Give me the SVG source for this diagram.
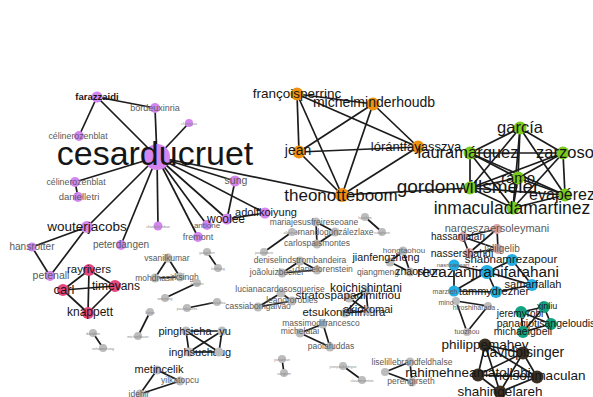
<svg xmlns="http://www.w3.org/2000/svg" width="593" height="397" viewBox="0 0 593 397">
<style>
.e line{stroke:#1c1c1c;stroke-width:1.7}
text{font-family:"Liberation Sans",Arial,sans-serif;text-anchor:middle}
.pu{fill:#d585ef}.or{fill:#f0900f}.gr{fill:#7bcb1e}.rd{fill:#e5467b}.pk{fill:#d9a4a4}.bl{fill:#22aee3}.tl{fill:#14a382}.dk{fill:#3b3024}.gy{fill:#bcbcbc}
.L{fill:#161616}.S{fill:#5a5a5a}.x{fill:#8a8a8a;font-size:3.6px}.b{font-weight:bold}
</style>
<rect width="593" height="397" fill="#fff"/>
<g class="e" id="edges">
<line x1="157" y1="157" x2="97" y2="97"/><line x1="157" y1="157" x2="155" y2="108"/><line x1="157" y1="157" x2="189" y2="123"/>
<line x1="157" y1="157" x2="75" y2="182"/><line x1="157" y1="157" x2="87" y2="227"/><line x1="157" y1="157" x2="121" y2="245"/>
<line x1="157" y1="157" x2="158" y2="226"/><line x1="157" y1="157" x2="207" y2="225"/><line x1="157" y1="157" x2="198" y2="237"/>
<line x1="157" y1="157" x2="227" y2="219"/><line x1="157" y1="157" x2="265" y2="213"/><line x1="157" y1="157" x2="235" y2="181"/>
<line x1="157" y1="157" x2="342" y2="195"/>
<line x1="97" y1="97" x2="155" y2="108"/><line x1="97" y1="97" x2="79" y2="136"/><line x1="75" y1="182" x2="78" y2="197"/>
<line x1="87" y1="227" x2="32" y2="247"/><line x1="87" y1="227" x2="50" y2="276"/><line x1="32" y1="247" x2="50" y2="276"/>
<line x1="235" y1="181" x2="227" y2="219"/><line x1="265" y1="213" x2="227" y2="219"/>
<line x1="297" y1="94" x2="373" y2="104"/><line x1="297" y1="94" x2="299" y2="152"/><line x1="297" y1="94" x2="418" y2="147"/><line x1="297" y1="94" x2="342" y2="195"/>
<line x1="373" y1="104" x2="299" y2="152"/><line x1="373" y1="104" x2="418" y2="147"/><line x1="373" y1="104" x2="342" y2="195"/>
<line x1="299" y1="152" x2="418" y2="147"/><line x1="299" y1="152" x2="342" y2="195"/><line x1="418" y1="147" x2="342" y2="195"/>
<line x1="342" y1="195" x2="470" y2="188"/>
<line x1="520" y1="128" x2="470" y2="153"/><line x1="520" y1="128" x2="563" y2="153"/><line x1="520" y1="128" x2="518" y2="178"/><line x1="520" y1="128" x2="470" y2="188"/><line x1="520" y1="128" x2="565" y2="195"/><line x1="520" y1="128" x2="513" y2="208"/>
<line x1="470" y1="153" x2="563" y2="153"/><line x1="470" y1="153" x2="518" y2="178"/><line x1="470" y1="153" x2="470" y2="188"/><line x1="470" y1="153" x2="565" y2="195"/><line x1="470" y1="153" x2="513" y2="208"/>
<line x1="563" y1="153" x2="518" y2="178"/><line x1="563" y1="153" x2="470" y2="188"/><line x1="563" y1="153" x2="565" y2="195"/><line x1="563" y1="153" x2="513" y2="208"/>
<line x1="518" y1="178" x2="470" y2="188"/><line x1="518" y1="178" x2="565" y2="195"/><line x1="518" y1="178" x2="513" y2="208"/>
<line x1="470" y1="188" x2="565" y2="195"/><line x1="470" y1="188" x2="513" y2="208"/><line x1="565" y1="195" x2="513" y2="208"/>
<line x1="89" y1="270" x2="115" y2="286"/><line x1="89" y1="270" x2="63" y2="290"/><line x1="89" y1="270" x2="88" y2="313"/>
<line x1="115" y1="286" x2="63" y2="290"/><line x1="115" y1="286" x2="88" y2="313"/><line x1="63" y1="290" x2="88" y2="313"/>
<line x1="497" y1="229" x2="463" y2="237"/><line x1="497" y1="229" x2="498" y2="249"/><line x1="497" y1="229" x2="469" y2="253"/>
<line x1="463" y1="237" x2="498" y2="249"/><line x1="463" y1="237" x2="469" y2="253"/><line x1="498" y1="249" x2="469" y2="253"/>
<line x1="487" y1="272" x2="454" y2="265"/><line x1="487" y1="272" x2="512" y2="260"/><line x1="487" y1="272" x2="532" y2="285"/><line x1="487" y1="272" x2="496" y2="292"/><line x1="487" y1="272" x2="454" y2="291"/>
<line x1="454" y1="265" x2="454" y2="291"/><line x1="512" y1="260" x2="532" y2="285"/><line x1="496" y1="292" x2="532" y2="285"/><line x1="454" y1="291" x2="496" y2="292"/>
<line x1="544" y1="307" x2="521" y2="312"/><line x1="544" y1="307" x2="551" y2="324"/><line x1="544" y1="307" x2="523" y2="332"/>
<line x1="521" y1="312" x2="551" y2="324"/><line x1="521" y1="312" x2="523" y2="332"/><line x1="551" y1="324" x2="523" y2="332"/>
<line x1="485" y1="345" x2="523" y2="353"/><line x1="485" y1="345" x2="478" y2="375"/><line x1="485" y1="345" x2="537" y2="377"/><line x1="485" y1="345" x2="500" y2="392"/>
<line x1="523" y1="353" x2="478" y2="375"/><line x1="523" y1="353" x2="537" y2="377"/><line x1="523" y1="353" x2="500" y2="392"/>
<line x1="478" y1="375" x2="537" y2="377"/><line x1="478" y1="375" x2="500" y2="392"/><line x1="537" y1="377" x2="500" y2="392"/>
<line x1="168" y1="258" x2="155" y2="278"/><line x1="168" y1="258" x2="180" y2="277"/><line x1="155" y1="278" x2="180" y2="277"/>
<line x1="207" y1="252" x2="218" y2="268"/><line x1="165" y1="298" x2="197" y2="283"/><line x1="150" y1="312" x2="138" y2="336"/>
<line x1="93" y1="333" x2="103" y2="348"/><line x1="187" y1="308" x2="217" y2="302"/>
<line x1="316" y1="222" x2="335" y2="232"/><line x1="316" y1="222" x2="317" y2="244"/><line x1="335" y1="232" x2="317" y2="244"/>
<line x1="292" y1="232" x2="264" y2="252"/><line x1="365" y1="217" x2="382" y2="232"/>
<line x1="282" y1="273" x2="300" y2="261"/><line x1="300" y1="261" x2="317" y2="270"/><line x1="282" y1="273" x2="317" y2="270"/>
<line x1="258" y1="307" x2="281" y2="293"/><line x1="281" y1="293" x2="292" y2="301"/><line x1="258" y1="307" x2="292" y2="301"/>
<line x1="186" y1="331" x2="222" y2="331"/><line x1="186" y1="331" x2="219" y2="352"/><line x1="222" y1="331" x2="189" y2="352"/><line x1="222" y1="331" x2="219" y2="352"/><line x1="189" y1="352" x2="219" y2="352"/><line x1="186" y1="331" x2="189" y2="352"/>
<line x1="157" y1="370" x2="180" y2="381"/><line x1="157" y1="370" x2="140" y2="394"/><line x1="180" y1="381" x2="140" y2="394"/>
<line x1="366" y1="291" x2="349" y2="298"/><line x1="366" y1="291" x2="368" y2="311"/><line x1="366" y1="291" x2="345" y2="313"/><line x1="349" y1="298" x2="368" y2="311"/><line x1="345" y1="313" x2="368" y2="311"/>
<line x1="300" y1="333" x2="323" y2="324"/><line x1="323" y1="324" x2="330" y2="347"/><line x1="300" y1="333" x2="330" y2="347"/>
<line x1="282" y1="359" x2="284" y2="373"/><line x1="343" y1="366" x2="362" y2="380"/>
<line x1="410" y1="362" x2="412" y2="382"/><line x1="410" y1="362" x2="385" y2="372"/><line x1="385" y1="372" x2="412" y2="382"/>
<line x1="403" y1="251" x2="390" y2="262"/><line x1="403" y1="251" x2="410" y2="272"/><line x1="390" y1="262" x2="410" y2="272"/>
<line x1="456" y1="301" x2="467" y2="332"/><line x1="456" y1="301" x2="488" y2="306"/><line x1="488" y1="306" x2="467" y2="332"/>
</g>
<g id="cesarducruet"><circle class="pu" cx="157" cy="157" r="13"/><text class="L" x="155" y="165" font-size="34">cesarducruet</text></g>
<g id="farazzaidi"><circle class="pu" cx="97" cy="97" r="5.5"/><text class="L b" x="97" y="100" font-size="9.5">farazzaidi</text></g>
<g id="bordeuxinria"><circle class="pu" cx="155" cy="108" r="5"/><text class="S" x="155" y="111" font-size="9">bordeuxinria</text></g>
<g id="pu1"><circle class="pu" cx="189" cy="123" r="4"/><text class="x" x="189" y="124.5">chenggao</text></g>
<g id="celine1"><circle class="pu" cx="79" cy="136" r="5"/><text class="S" x="78" y="139" font-size="8.8">célinerozenblat</text></g>
<g id="celine2"><circle class="pu" cx="75" cy="182" r="5"/><text class="S" x="76" y="185" font-size="8.8">célinerozenblat</text></g>
<g id="danielletri"><circle class="pu" cx="78" cy="197" r="5"/><text class="S" x="79" y="200" font-size="9.5">danielletri</text></g>
<g id="wouterjacobs"><circle class="pu" cx="87" cy="227" r="6"/><text class="L" x="87" y="231" font-size="13.5">wouterjacobs</text></g>
<g id="hansrotter"><circle class="pu" cx="32" cy="247" r="4.5"/><text class="S" x="32" y="250" font-size="10">hansrotter</text></g>
<g id="peterdangen"><circle class="pu" cx="121" cy="245" r="5"/><text class="S" x="121" y="248" font-size="10">peterdangen</text></g>
<g id="petenall"><circle class="pu" cx="50" cy="276" r="5"/><text class="S" x="51" y="279" font-size="10.5">petenall</text></g>
<g id="pu2"><circle class="pu" cx="158" cy="226" r="4.5"/><text class="x" x="158" y="227.5">changkeunbae</text></g>
<g id="antione"><circle class="pu" cx="207" cy="225" r="5"/><text class="S" x="207" y="228" font-size="8">antione</text></g>
<g id="fremont"><circle class="pu" cx="198" cy="237" r="5"/><text class="S" x="198" y="240" font-size="9">fremont</text></g>
<g id="woolee"><circle class="pu" cx="227" cy="219" r="5.5"/><text class="L" x="226" y="223" font-size="12">woolee</text></g>
<g id="sung"><circle class="pu" cx="235" cy="181" r="5.5"/><text class="S" x="236" y="184" font-size="10.5">sung</text></g>
<g id="adolfkoiyung"><circle class="pu" cx="265" cy="213" r="5.5"/><text class="L" x="266" y="216" font-size="11">adolfkoiyung</text></g>
<g id="francoisperrinc"><circle class="or" cx="297" cy="94" r="6.5"/><text class="L" x="297" y="98" font-size="13.5">françoisperrinc</text></g>
<g id="michelminderhoudb"><circle class="or" cx="373" cy="104" r="6.5"/><text class="L" x="374" y="107" font-size="14">michelminderhoudb</text></g>
<g id="jean"><circle class="or" cx="299" cy="152" r="6.5"/><text class="L" x="298" y="155" font-size="14">jean</text></g>
<g id="lorantfayasszya"><circle class="or" cx="418" cy="147" r="6.5"/><text class="L" x="416" y="151" font-size="13">lórántfayasszya</text></g>
<g id="theonotteboom"><circle class="or" cx="342" cy="195" r="7"/><text class="L" x="341" y="201" font-size="17">theonotteboom</text></g>
<g id="garcia"><circle class="gr" cx="520" cy="128" r="6.5"/><text class="L" x="520" y="133" font-size="16.5">garcía</text></g>
<g id="lauramarquez"><circle class="gr" cx="470" cy="153" r="6.5"/><text class="L" x="468" y="158" font-size="16.5">lauramárquez</text></g>
<g id="zarzoso"><circle class="gr" cx="563" cy="153" r="6.5"/><text class="L" x="565" y="158" font-size="16.5">zarzoso</text></g>
<g id="ramo"><circle class="gr" cx="518" cy="178" r="6.5"/><text class="L" x="518" y="183" font-size="15">ramo</text></g>
<g id="gordonwillsmeier"><circle class="gr" cx="470" cy="188" r="6.5"/><text class="L" x="468" y="193" font-size="19">gordonwillsmeier</text></g>
<g id="evaperez"><circle class="gr" cx="565" cy="195" r="6.5"/><text class="L" x="562" y="200" font-size="16">evapérez</text></g>
<g id="inmaculadamartinez"><circle class="gr" cx="513" cy="208" r="6.5"/><text class="L" x="512" y="214" font-size="17.5">inmaculadamartinez</text></g>
<g id="rayrivers"><circle class="rd" cx="89" cy="270" r="6"/><text class="L" x="89" y="273" font-size="11.5">rayrivers</text></g>
<g id="timevans"><circle class="rd" cx="115" cy="286" r="6"/><text class="L" x="116" y="290" font-size="12">timevans</text></g>
<g id="carl"><circle class="rd" cx="63" cy="290" r="6"/><text class="L" x="64" y="294" font-size="13">carl</text></g>
<g id="knappett"><circle class="rd" cx="88" cy="313" r="6"/><text class="L" x="90" y="316" font-size="12">knappett</text></g>
<g id="nargeszaersoleymani"><circle class="pk" cx="497" cy="229" r="5"/><text class="S" x="497" y="232" font-size="11">nargeszaersoleymani</text></g>
<g id="hassanjafari"><circle class="pk" cx="463" cy="237" r="5"/><text class="L" x="458" y="240" font-size="10">hassanjafari</text></g>
<g id="jalilgelib"><circle class="pk" cx="498" cy="249" r="5"/><text class="S" x="502" y="252" font-size="10">jalilgelib</text></g>
<g id="nassershahdi"><circle class="pk" cx="469" cy="253" r="5"/><text class="L" x="462" y="257" font-size="10.5">nassershahdi</text></g>
<g id="rezazanjiranifarahani"><circle class="bl" cx="487" cy="272" r="7"/><text class="L" x="488" y="277" font-size="15.3">rezazanjiranifarahani</text></g>
<g id="nasrin"><circle class="bl" cx="454" cy="265" r="5.5"/><text class="S" x="453" y="267" font-size="6">nasrinasgari</text></g>
<g id="shabnamrezapour"><circle class="bl" cx="512" cy="260" r="6"/><text class="L" x="511" y="263" font-size="11.5">shabnamrezapour</text></g>
<g id="samarfallah"><circle class="bl" cx="532" cy="285" r="6"/><text class="L" x="533" y="288" font-size="11">samarfallah</text></g>
<g id="tammydrezner"><circle class="bl" cx="496" cy="292" r="6"/><text class="L" x="494" y="295" font-size="11">tammydrezner</text></g>
<g id="marzieh"><circle class="bl" cx="454" cy="291" r="5.5"/><text class="S" x="445" y="294" font-size="7">marzieh</text></g>
<g id="xinliu"><circle class="tl" cx="544" cy="307" r="6"/><text class="L" x="547" y="309" font-size="9">xinliu</text></g>
<g id="jeremyrobi"><circle class="tl" cx="521" cy="312" r="6"/><text class="L" x="520" y="317" font-size="10">jeremyrobi</text></g>
<g id="panagiotisangeloudis"><circle class="tl" cx="551" cy="324" r="6"/><text class="L" x="546" y="327" font-size="10.5">panagiotisangeloudis</text></g>
<g id="michaelgbell"><circle class="tl" cx="523" cy="332" r="6"/><text class="L" x="523" y="335" font-size="10.5">michaelgbell</text></g>
<g id="philippemahey"><circle class="dk" cx="485" cy="345" r="6.5"/><text class="L" x="485" y="349" font-size="13.5">philippemahey</text></g>
<g id="davidpisinger"><circle class="dk" cx="523" cy="353" r="6.5"/><text class="L" x="523" y="357" font-size="14">davidpisinger</text></g>
<g id="rahimeh"><circle class="dk" cx="478" cy="375" r="6.5"/><text class="L" x="468" y="377" font-size="13.5">rahimehneamatollahi</text></g>
<g id="maculan"><circle class="dk" cx="537" cy="377" r="6.5"/><text class="L" x="540" y="380" font-size="13.5">nelsonmaculan</text></g>
<g id="shahingelareh"><circle class="dk" cx="500" cy="392" r="6.5"/><text class="L" x="500" y="396" font-size="13.5">shahingelareh</text></g>
<g id="vsanilkumar"><circle class="gy" cx="168" cy="258" r="4.5"/><text class="S" x="167" y="261" font-size="8.5">vsanilkumar</text></g>
<g id="mohd"><circle class="gy" cx="155" cy="278" r="4.5"/><text class="S" x="155" y="281" font-size="8.5">mohdnasir</text></g>
<g id="singh"><circle class="gy" cx="180" cy="277" r="4.5"/><text class="S" x="185" y="280" font-size="8.5">rksingh</text></g>
<g id="g1"><circle class="gy" cx="207" cy="252" r="4"/><text class="x" x="207" y="253.5">yangchen</text></g>
<g id="g2"><circle class="gy" cx="218" cy="268" r="4"/><text class="x" x="218" y="269.5">linzhang</text></g>
<g id="g3"><circle class="gy" cx="165" cy="298" r="4"/><text class="x" x="165" y="299.5">wenxiang</text></g>
<g id="g4"><circle class="gy" cx="197" cy="283" r="4"/><text class="x" x="197" y="284.5">jiangwei</text></g>
<g id="g5"><circle class="gy" cx="150" cy="312" r="4"/><text class="x" x="150" y="313.5">liuhan</text></g>
<g id="g6"><circle class="gy" cx="138" cy="336" r="4"/><text class="x" x="138" y="337.5">michaelbauer</text></g>
<g id="g7"><circle class="gy" cx="93" cy="333" r="4"/><text class="x" x="93" y="334.5">davidkim</text></g>
<g id="g8"><circle class="gy" cx="103" cy="348" r="4"/><text class="x" x="103" y="349.5">sehwanchung</text></g>
<g id="g9"><circle class="gy" cx="187" cy="308" r="4"/><text class="x" x="187" y="309.5">paulotavares</text></g>
<g id="g10"><circle class="gy" cx="217" cy="302" r="4"/><text class="x" x="217" y="303.5">marcosilva</text></g>
<g id="mariajesus"><circle class="gy" cx="316" cy="222" r="4.5"/><text class="S" x="314" y="225" font-size="8.5">mariajesusfreireseoane</text></g>
<g id="fernando"><circle class="gy" cx="335" cy="232" r="4.5"/><text class="S" x="332" y="235" font-size="8.5">fernandogonzálezlaxe</text></g>
<g id="carlos"><circle class="gy" cx="317" cy="244" r="4.5"/><text class="S" x="317" y="246" font-size="8.5">carlospaismontes</text></g>
<g id="g11"><circle class="gy" cx="292" cy="232" r="4"/><text class="x" x="292" y="233.5">albertoruiz</text></g>
<g id="g12"><circle class="gy" cx="264" cy="252" r="4"/><text class="x" x="264" y="253.5">joseromero</text></g>
<g id="g13"><circle class="gy" cx="365" cy="217" r="4"/><text class="x" x="365" y="218.5">hyunkim</text></g>
<g id="g14"><circle class="gy" cx="382" cy="232" r="4"/><text class="x" x="382" y="233.5">sunghoon</text></g>
<g id="deniselindstrombandeira"><circle class="gy" cx="300" cy="261" r="4.5"/><text class="S" x="300" y="263" font-size="8.5">deniselindstrombandeira</text></g>
<g id="joaoluizbecker"><circle class="gy" cx="282" cy="273" r="4.5"/><text class="S" x="277" y="275" font-size="8.5">joãoluizbecker</text></g>
<g id="orenstein"><circle class="gy" cx="317" cy="270" r="4.5"/><text class="S" x="324" y="272" font-size="8.5">danielorenstein</text></g>
<g id="luciana"><circle class="gy" cx="281" cy="293" r="4.5"/><text class="S" x="280" y="292" font-size="8.5">lucianacardososguerise</text></g>
<g id="leandro"><circle class="gy" cx="292" cy="301" r="4.5"/><text class="S" x="292" y="303" font-size="8.5">leandrorobles</text></g>
<g id="cassia"><circle class="gy" cx="258" cy="307" r="4.5"/><text class="S" x="258" y="309" font-size="8.5">cassiabomgalvão</text></g>
<g id="pinghsieha"><circle class="gy" cx="186" cy="331" r="4.5"/><text class="L" x="185" y="335" font-size="11">pinghsieha</text></g>
<g id="yu"><circle class="gy" cx="222" cy="331" r="4.5"/><text class="L" x="225" y="335" font-size="11">yu</text></g>
<g id="inghsuchaug"><circle class="gy" cx="189" cy="352" r="4.5"/><text class="L" x="200" y="356" font-size="11">inghsuchaug</text></g>
<g id="g15"><circle class="gy" cx="219" cy="352" r="4.5"/></g>
<g id="metincelik"><circle class="gy" cx="157" cy="370" r="4.5"/><text class="L" x="159" y="373" font-size="11">metincelik</text></g>
<g id="yilkatopcu"><circle class="gy" cx="180" cy="381" r="4.5"/><text class="S" x="180" y="383" font-size="8.5">yilkatopcu</text></g>
<g id="idehir"><circle class="gy" cx="140" cy="394" r="4.5"/><text class="S" x="139" y="397" font-size="8.5">idehir</text></g>
<g id="koichishintani"><circle class="gy" cx="366" cy="291" r="4.5"/><text class="L" x="366" y="292" font-size="12">koichishintani</text></g>
<g id="stratospapadimitriou"><circle class="gy" cx="349" cy="298" r="4.5"/><text class="L" x="348" y="299" font-size="11.7">stratospapadimitriou</text></g>
<g id="etsukonishimura"><circle class="gy" cx="345" cy="313" r="4.5"/><text class="L" x="344" y="316" font-size="11.4">etsukonishimura</text></g>
<g id="akiokomai"><circle class="gy" cx="368" cy="311" r="4.5"/><text class="L" x="368" y="313" font-size="11">akiokomai</text></g>
<g id="massimo"><circle class="gy" cx="323" cy="324" r="4.5"/><text class="S" x="321" y="326" font-size="8.5">massimodifrancesco</text></g>
<g id="michela"><circle class="gy" cx="300" cy="333" r="4.5"/><text class="S" x="300" y="334" font-size="8.5">michelatai</text></g>
<g id="paola"><circle class="gy" cx="330" cy="347" r="4.5"/><text class="S" x="331" y="349" font-size="8.5">paolafuddas</text></g>
<g id="g16"><circle class="gy" cx="282" cy="359" r="4"/><text class="x" x="282" y="360.5">yohanhan</text></g>
<g id="g17"><circle class="gy" cx="284" cy="373" r="4"/><text class="x" x="284" y="374.5">sangkim</text></g>
<g id="g18"><circle class="gy" cx="343" cy="366" r="4"/><text class="x" x="343" y="367.5">jeanpaulrodrigue</text></g>
<g id="g19"><circle class="gy" cx="362" cy="380" r="4"/><text class="x" x="362" y="381.5">claudecomtois</text></g>
<g id="lise"><circle class="gy" cx="410" cy="362" r="4.5"/><text class="S" x="412" y="365" font-size="8.5">liselillebrandfeldhalse</text></g>
<g id="peren"><circle class="gy" cx="412" cy="382" r="4.5"/><text class="S" x="411" y="384" font-size="8.5">perengirseth</text></g>
<g id="g20"><circle class="gy" cx="385" cy="372" r="4"/></g>
<g id="hongtaohou"><circle class="gy" cx="403" cy="251" r="4.5"/><text class="S" x="404" y="253" font-size="8">hongtaohou</text></g>
<g id="jianfengzheng"><circle class="gy" cx="390" cy="262" r="4.5"/><text class="L" x="386" y="261" font-size="10.8">jianfengzheng</text></g>
<g id="qiang"><circle class="gy" cx="410" cy="272" r="4.5"/><text class="S" x="378" y="275" font-size="8.5">qiangmeng</text><text class="L" x="418" y="275" font-size="10.5">zhaoshun</text></g>
<g id="mino"><circle class="gy" cx="456" cy="301" r="4"/><text class="S" x="446" y="305" font-size="7">mino</text></g>
<g id="hiroshiharada"><circle class="gy" cx="488" cy="306" r="4"/><text class="S" x="474" y="310" font-size="7">hiroshiharada</text></g>
<g id="tuozhou"><circle class="gy" cx="467" cy="332" r="4"/><text class="S" x="467" y="334" font-size="7">tuozhou</text></g>
</svg>
